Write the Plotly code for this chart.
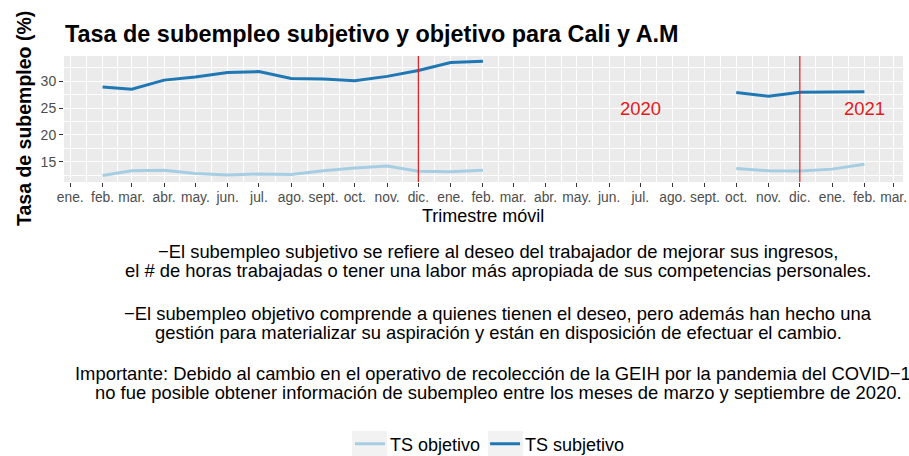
import plotly.graph_objects as go
import pandas as pd

# ---------------- data ----------------
months = pd.date_range("2019-02-01", "2021-02-01", freq="MS").strftime("%Y-%m-%d").tolist()
ts_subjetivo = [28.9, 28.5, 30.2, 30.8, 31.6, 31.8, 30.5, 30.4, 30.1, 30.9, 32.0, 33.5, 33.7,
                None, None, None, None, None, None, None,
                27.9, 27.2, 27.95, 27.95, 28.05]
ts_objetivo = [12.4, 13.3, 13.4, 12.8, 12.5, 12.7, 12.6, 13.3, 13.8, 14.2, 13.2, 13.1, 13.4,
               None, None, None, None, None, None, None,
               13.7, 13.3, 13.25, 13.6, 14.5]

tick_dates = pd.date_range("2019-01-01", "2021-03-01", freq="MS")
month_abbr = ["ene.", "feb.", "mar.", "abr.", "may.", "jun.", "jul.", "ago.", "sept.", "oct.", "nov.", "dic."]
tick_labels = [month_abbr[d.month - 1] for d in tick_dates]
y_ticks = [15, 20, 25, 30]

vline_dates = ["2019-12-01", "2020-12-01"]
year_labels = ["2020", "2021"]
year_label_x = ["2020-07-01", "2021-02-01"]
year_label_y = [25, 25]

title = "Tasa de subempleo subjetivo y objetivo para Cali y A.M"
y_title = "Tasa de subempleo (%)"
x_title = "Trimestre móvil"
caption_lines = [
    "−El subempleo subjetivo se refiere al deseo del trabajador de mejorar sus ingresos,",
    "el # de horas trabajadas o tener una labor más apropiada de sus competencias personales.",
    "−El subempleo objetivo comprende a quienes tienen el deseo, pero además han hecho una",
    "gestión para materializar su aspiración y están en disposición de efectuar el cambio.",
    "Importante: Debido al cambio en el operativo de recolección de la GEIH por la pandemia del COVID−19",
    "no fue posible obtener información de subempleo entre los meses de marzo y septiembre de 2020.",
]

# ---------------- layout geometry ----------------
W, H = 909, 456
PL, PR, PT, PB = 64, 903, 56, 182
FONT = "Liberation Sans, Arial, sans-serif"
RED = "#e31a1c"

def py(pix):
    return (PB - pix) / (PB - PT)

def px(pix):
    return (pix - PL) / (PR - PL)

fig = go.Figure()
fig.add_trace(go.Scatter(x=months, y=ts_objetivo, mode="lines", name="TS objetivo",
                         line=dict(color="#a6cee3", width=3), connectgaps=False))
fig.add_trace(go.Scatter(x=months, y=ts_subjetivo, mode="lines", name="TS subjetivo",
                         line=dict(color="#1f78b4", width=3), connectgaps=False))

for d in vline_dates:
    fig.add_shape(type="line", xref="x", yref="paper", x0=d, x1=d, y0=0, y1=1,
                  line=dict(color=RED, width=1.2), layer="above")

for lab, xx, yy in zip(year_labels, year_label_x, year_label_y):
    fig.add_annotation(x=xx, y=yy, xref="x", yref="y", text=lab, showarrow=False,
                       xanchor="center", yanchor="middle",
                       font=dict(family=FONT, size=18.5, color=RED))

# minor grid positions: midpoints between monthly ticks
mid = [(tick_dates[i] + (tick_dates[i + 1] - tick_dates[i]) / 2).strftime("%Y-%m-%d %H:%M")
       for i in range(len(tick_dates) - 1)]

fig.update_xaxes(
    range=["2018-12-26", "2021-03-10"],
    tickmode="array", tickvals=tick_dates.strftime("%Y-%m-%d").tolist(), ticktext=tick_labels,
    ticks="outside", ticklen=4, tickcolor="#333333", tickwidth=1.1, ticklabelstandoff=-2,
    tickfont=dict(family=FONT, size=13.8, color="#4d4d4d"),
    showgrid=True, gridcolor="white", gridwidth=1.3,
    minor=dict(tickmode="array", tickvals=mid, showgrid=True, gridcolor="white", gridwidth=0.6),
    zeroline=False, showline=False,
)
fig.update_yaxes(
    range=[11.2, 34.7],
    tickmode="array", tickvals=y_ticks,
    ticks="outside", ticklen=4, tickcolor="#333333", tickwidth=1.1,
    tickfont=dict(family=FONT, size=14, color="#4d4d4d"),
    showgrid=True, gridcolor="white", gridwidth=1.3,
    minor=dict(tickmode="array", tickvals=[12.5, 17.5, 22.5, 27.5, 32.5], showgrid=True,
               gridcolor="white", gridwidth=0.6),
    zeroline=False, showline=False,
)

fig.add_annotation(x=px(24), y=0.5, xref="paper", yref="paper", text=f"<b>{y_title}</b>",
                   textangle=-90, showarrow=False, xanchor="center", yanchor="middle",
                   font=dict(family=FONT, size=19.5, color="black"))
fig.add_annotation(x=px(483), y=py(216), xref="paper", yref="paper", text=x_title,
                   showarrow=False, xanchor="center", yanchor="middle",
                   font=dict(family=FONT, size=18, color="black"))

cap_y = [251, 270, 313, 332, 373, 392]
for line, yy in zip(caption_lines, cap_y):
    fig.add_annotation(x=px(498), y=py(yy), xref="paper", yref="paper", text=line,
                       showarrow=False, xanchor="center", yanchor="middle",
                       font=dict(family=FONT, size=18.4, color="black"))

# grey legend-key backgrounds (ggplot style)
for x0, x1 in [(352, 387), (488, 523)]:
    fig.add_shape(type="rect", xref="paper", yref="paper", x0=px(x0), x1=px(x1),
                  y0=py(458), y1=py(431), fillcolor="#f2f2f2", line=dict(width=0), layer="below")

fig.update_layout(
    width=W, height=H,
    margin=dict(l=PL, r=W - PR, t=PT, b=H - PB, autoexpand=False),
    paper_bgcolor="white", plot_bgcolor="#ebebeb",
    title=dict(text=f"<b>{title}</b>", x=65 / W, xanchor="left", xref="container",
               y=1 - 34 / H, yanchor="middle", yref="container",
               font=dict(family=FONT, size=23.4, color="black")),
    showlegend=True,
    legend=dict(orientation="h", x=490 / W, xanchor="center", xref="container",
                y=1 - 444 / H, yanchor="middle", yref="container",
                font=dict(family=FONT, size=18, color="black"), bgcolor="rgba(0,0,0,0)"),
)

fig.write_html("out.html", config={"displayModeBar": False},
               post_script="document.body.style.margin='0';")
